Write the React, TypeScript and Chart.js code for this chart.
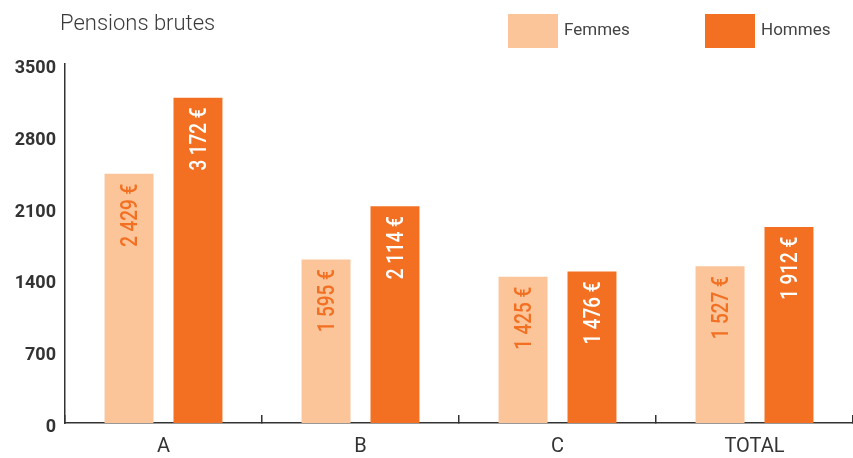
import React, { useEffect, useRef } from 'react';
import { Chart, registerables } from 'chart.js';

Chart.register(...registerables);

const categories = ['A', 'B', 'C', 'TOTAL'];
const seriesNames = ['Femmes', 'Hommes'];
const femmes = [2429, 1595, 1425, 1527];
const hommes = [3172, 2114, 1476, 1912];
const yTicks = [0, 700, 1400, 2100, 2800, 3500];
const chartTitle = 'Pensions brutes';

const LIGHT = '#FBC499';
const DARK = '#F37022';
const AXIS = '#333333';

function fmt(v: number): string {
  return String(v).replace(/\B(?=(\d{3})+(?!\d))/g, ' ') + ' €';
}

const headerPlugin = {
  id: 'header',
  afterDraw(chart: any) {
    const ctx = chart.ctx;
    ctx.save();
    ctx.fillStyle = '#3a3a3a';
    ctx.font = '300 22px Roboto';
    ctx.textBaseline = 'middle';
    ctx.textAlign = 'left';
    ctx.fillText(chartTitle, 60, 24);
    const xs = [508, 705];
    chart.data.datasets.forEach((ds: any, i: number) => {
      ctx.fillStyle = ds.backgroundColor;
      ctx.fillRect(xs[i], 14, 50, 34);
      ctx.fillStyle = '#444444';
      ctx.font = '17px Roboto';
      ctx.fillText(ds.label, xs[i] + 56, 31);
    });
    ctx.restore();
  },
};

const barLabelPlugin = {
  id: 'barLabels',
  afterDatasetsDraw(chart: any) {
    const ctx = chart.ctx;
    chart.data.datasets.forEach((ds: any, di: number) => {
      const meta = chart.getDatasetMeta(di);
      meta.data.forEach((bar: any, i: number) => {
        const v = ds.data[i];
        ctx.save();
        ctx.translate(bar.x, bar.y + 10);
        ctx.rotate(-Math.PI / 2);
        ctx.scale(0.82, 1);
        ctx.font = '500 23px Roboto';
        ctx.fillStyle = di === 0 ? DARK : '#ffffff';
        ctx.textAlign = 'right';
        ctx.textBaseline = 'alphabetic';
        ctx.fillText(fmt(v), 0, 8.2);
        ctx.restore();
      });
    });
  },
};

export default function App() {
  const ref = useRef<HTMLCanvasElement | null>(null);

  useEffect(() => {
    if (!ref.current) return;
    const chart = new Chart(ref.current, {
      type: 'bar',
      data: {
        labels: categories,
        datasets: [
          { label: seriesNames[0], data: femmes, backgroundColor: LIGHT, borderWidth: 0 },
          { label: seriesNames[1], data: hommes, backgroundColor: DARK, borderWidth: 0 },
        ],
      },
      options: {
        responsive: false,
        animation: false,
        events: [],
        layout: { padding: { top: 64, left: 0, right: 0, bottom: 0 } },
        datasets: { bar: { categoryPercentage: 0.7, barPercentage: 0.71 } },
        plugins: {
          legend: { display: false },
          title: { display: false },
          tooltip: { enabled: false },
        },
        scales: {
          x: {
            offset: true,
            grid: {
              offset: true,
              drawOnChartArea: false,
              drawTicks: true,
              tickLength: -8,
              color: AXIS,
              lineWidth: 1.5,
            },
            border: { display: true, color: AXIS, width: 1.5 },
            ticks: {
              color: '#333333',
              font: { family: 'Roboto', size: 20 },
              padding: 20,
              maxRotation: 0,
              autoSkip: false,
            },
            afterFit: (s: any) => {
              s.height = 35;
            },
          },
          y: {
            min: 0,
            max: 3500,
            afterBuildTicks: (s: any) => {
              s.ticks = yTicks.map((v) => ({ value: v }));
            },
            grid: { display: false, drawTicks: false, tickLength: 0 },
            border: { display: true, color: AXIS, width: 1.5 },
            ticks: {
              callback: (v: any) => ['', String(v)],
              color: '#333333',
              font: { family: 'Roboto', weight: 'bold', size: 18, lineHeight: 0.5 },
              padding: 9,
            },
            afterFit: (s: any) => {
              s.width = 65;
            },
          },
        },
      },
      plugins: [barLabelPlugin, headerPlugin],
    } as any);
    return () => chart.destroy();
  }, []);

  return (
    <div style={{ position: 'absolute', left: 0, top: 0, width: 853, height: 458, background: '#ffffff' }}>
      <canvas ref={ref} width={853} height={458} style={{ display: 'block', width: 853, height: 458 }} />
    </div>
  );
}
